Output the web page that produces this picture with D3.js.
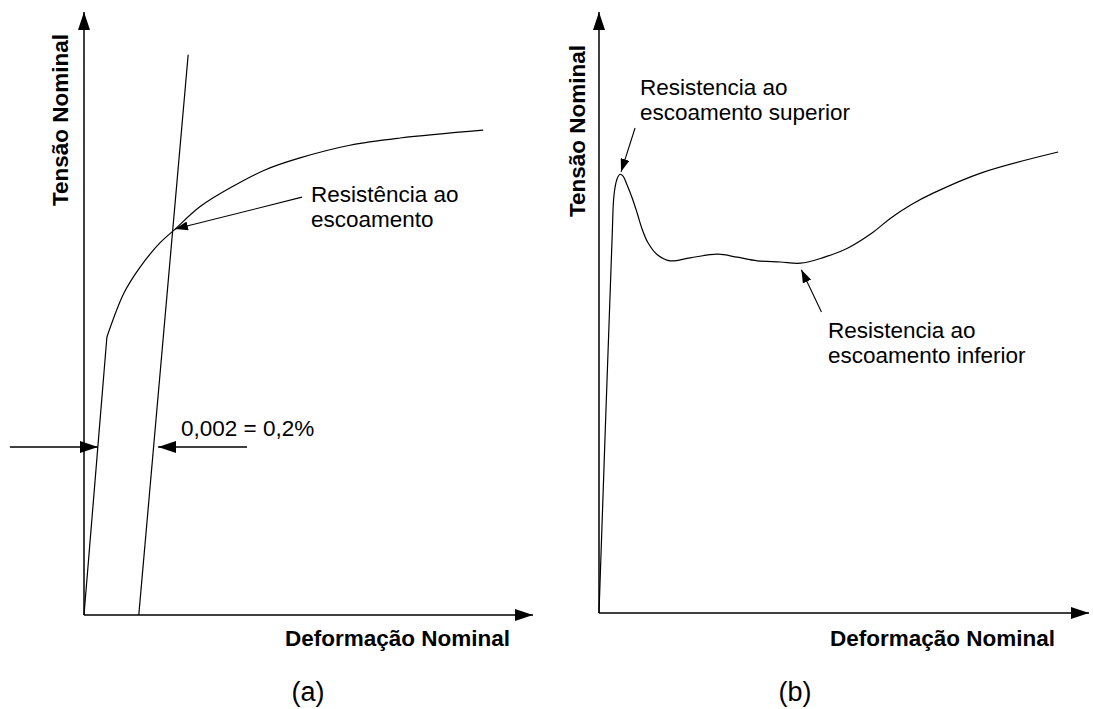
<!DOCTYPE html>
<html>
<head>
<meta charset="utf-8">
<script src="https://cdn.jsdelivr.net/npm/d3@7"></script>
<style>
  html, body { margin: 0; padding: 0; background: #fff; }
  svg { display: block; font-family: "Liberation Sans", Arial, sans-serif; }
  .lbl { font-size: 22.5px; fill: #000; }
  .tag { font-size: 27px; fill: #000; }
  .axlbl { font-size: 22.5px; font-weight: bold; fill: #000; }
</style>
</head>
<body>
<svg id="chart" width="1093" height="709"></svg>
<script>
// panel (a) - curve with offset method (units: 0..100 on both axes)
var curveAStrain = [0, 5.1, 8.9, 12.5, 16.9, 20.3, 25.8, 33.2, 40.3, 48.1, 59.2, 70.4, 88.9];
var curveAStress = [0, 46.1, 53.4, 57.7, 61.7, 64.0, 67.7, 71.1, 73.8, 75.8, 77.9, 79.1, 80.4];
var offsetAStrain = [12.2, 23.2];
var offsetAStress = [0, 92.9];

// panel (b) - upper / lower yield point
var curveBStrain = [0, 2.66, 3.07, 3.68, 4.29, 4.91, 5.73, 6.75, 7.77, 8.79, 10.0, 11.9, 14.5, 18.6, 24.3, 28.2, 32.3, 37.0, 41.1, 45.6, 50.7, 56.0, 59.5, 63.6, 68.3, 77.9, 93.7];
var curveBStress = [0, 62.1, 69.6, 72.2, 73.0, 72.7, 71.2, 69.1, 66.6, 63.9, 61.6, 59.6, 58.6, 59.1, 59.7, 59.2, 58.6, 58.4, 58.2, 59.1, 60.7, 63.4, 65.7, 67.9, 69.9, 73.2, 76.7];

// arrows [x1, y1, x2, y2] in data units, tip at the end
var dimArrowsA = [[-16.5, 27.86, 3.12, 27.86], [36.3, 27.86, 16.5, 27.86]];
var noteArrowsA = [[48.55, 69.3, 20.27, 64.0]];
var noteArrowsB = [[7.36, 80.7, 4.5, 73.4], [45.4, 50.1, 41.3, 57.1]];

var axisTitleX = "Deformação Nominal";
var axisTitleY = "Tensão Nominal";

var svg = d3.select("#chart");

var defs = svg.append("defs");
function marker(id, len, wid) {
    defs.append("marker")
        .attr("id", id)
        .attr("viewBox", "0 0 " + len + " " + wid)
        .attr("refX", len)
        .attr("refY", wid / 2)
        .attr("markerWidth", len)
        .attr("markerHeight", wid)
        .attr("markerUnits", "userSpaceOnUse")
        .attr("orient", "auto")
        .append("path")
        .attr("d", "M0,0L" + len + "," + (wid / 2) + "L0," + wid + "Z")
        .attr("fill", "#000");
}
marker("big", 18, 12);
marker("small", 13, 9);

function panel(opts) {
    var x = d3.scaleLinear().domain([0, 100]).range(opts.xr),
        y = d3.scaleLinear().domain([0, 100]).range(opts.yr),
        g = svg.append("g");

    var line = d3.line().x(function(d) { return x(d[0]); }).y(function(d) { return y(d[1]); });

    // axes with arrow heads
    g.append("path")
        .attr("d", line([[0, 0], [100, 0]]))
        .attr("stroke", "#000").attr("stroke-width", 1.5).attr("fill", "none")
        .attr("marker-end", "url(#big)");
    g.append("path")
        .attr("d", line([[0, 0], [0, 100]]))
        .attr("stroke", "#000").attr("stroke-width", 1.5).attr("fill", "none")
        .attr("marker-end", "url(#big)");

    g.append("text")
        .attr("class", "axlbl")
        .attr("text-anchor", "end")
        .attr("x", opts.xlab[0]).attr("y", opts.xlab[1])
        .text(axisTitleX);
    g.append("text")
        .attr("class", "axlbl")
        .attr("text-anchor", "middle")
        .attr("transform", "translate(" + opts.ylab[0] + "," + opts.ylab[1] + ") rotate(-90)")
        .text(axisTitleY);

    g.append("text")
        .attr("class", "tag")
        .attr("text-anchor", "middle")
        .attr("x", opts.tag[0]).attr("y", opts.tag[1])
        .text(opts.tagText);

    return {x: x, y: y, g: g, line: line};
}

function arrows(p, list, mk, sw) {
    p.g.selectAll(null)
        .data(list)
        .enter()
        .append("path")
        .attr("d", function(d) { return p.line([[d[0], d[1]], [d[2], d[3]]]); })
        .attr("stroke", "#000").attr("stroke-width", sw).attr("fill", "none")
        .attr("marker-end", "url(#" + mk + ")");
}

function notes(p, lines, x0, y0, dy) {
    var t = p.g.append("text").attr("class", "lbl");
    lines.forEach(function(s, i) {
        t.append("tspan").attr("x", x0).attr("y", y0 + i * dy).text(s);
    });
}

// ---- panel (a)
var pa = panel({xr: [84, 533], yr: [615, 12], xlab: [510, 646], ylab: [68, 120], tag: [308, 701], tagText: "(a)"});
var ptsA = curveAStrain.map(function(v, i) { return [v, curveAStress[i]]; });

pa.g.append("path")
    .attr("d", pa.line(ptsA.slice(0, 2)))
    .attr("stroke", "#000").attr("stroke-width", 1.2).attr("fill", "none");
pa.g.append("path")
    .attr("d", pa.line.curve(d3.curveCatmullRom)(ptsA.slice(1)))
    .attr("stroke", "#000").attr("stroke-width", 1.2).attr("fill", "none");
pa.line.curve(d3.curveLinear);

pa.g.append("path")
    .attr("d", pa.line(offsetAStrain.map(function(v, i) { return [v, offsetAStress[i]]; })))
    .attr("stroke", "#000").attr("stroke-width", 1.2).attr("fill", "none");

arrows(pa, dimArrowsA, "big", 1.3);
arrows(pa, noteArrowsA, "small", 1.1);

pa.g.append("text").attr("class", "lbl").attr("x", 181).attr("y", 436).text("0,002 = 0,2%");
notes(pa, ["Resistência ao", "escoamento"], 311, 202, 25);

// ---- panel (b)
var pb = panel({xr: [599, 1089], yr: [613, 12], xlab: [1055, 646], ylab: [585, 131], tag: [795, 701], tagText: "(b)"});
var ptsB = curveBStrain.map(function(v, i) { return [v, curveBStress[i]]; });

pb.g.append("path")
    .attr("d", pb.line.curve(d3.curveCatmullRom)(ptsB))
    .attr("stroke", "#000").attr("stroke-width", 1.2).attr("fill", "none");
pb.line.curve(d3.curveLinear);

arrows(pb, noteArrowsB, "small", 1.1);

notes(pb, ["Resistencia ao", "escoamento superior"], 640, 95, 25);
notes(pb, ["Resistencia ao", "escoamento inferior"], 828, 338, 25);
</script>
</body>
</html>
